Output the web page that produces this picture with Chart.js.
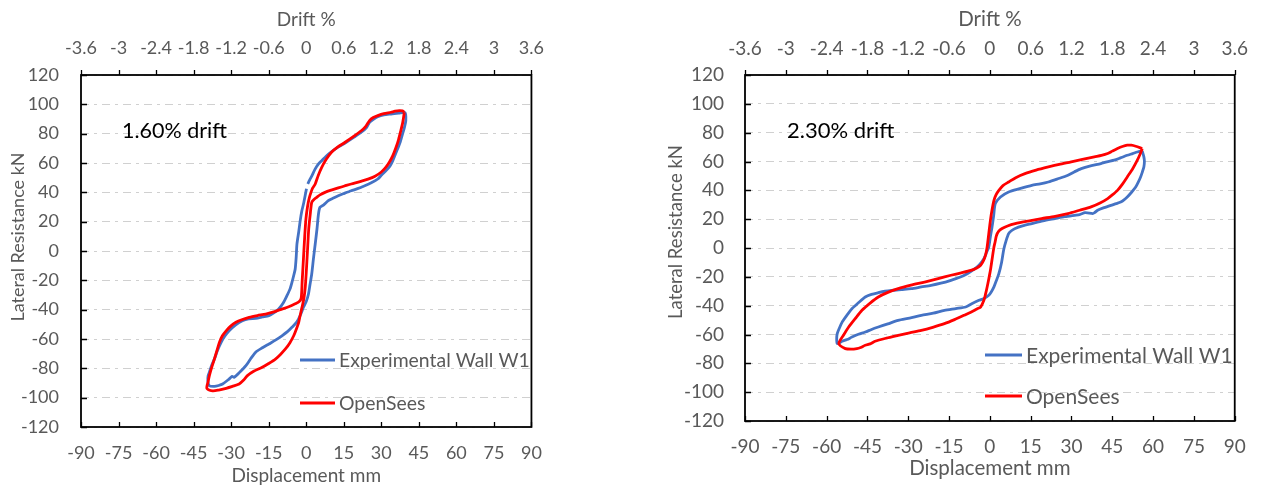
<!DOCTYPE html>
<html lang="en">
<head>
<meta charset="UTF-8">
<title>Wall W1 hysteresis vs OpenSees</title>
<script src="https://cdn.jsdelivr.net/npm/chart.js"></script>
<style>
  html, body { margin: 0; padding: 0; background: #fff; }
  .panel { position: absolute; top: 0; height: 486px; }
  #left { left: 0; width: 560px; }
  #right { left: 640px; width: 623px; }
</style>
</head>
<body>
<div class="panel" id="left"><canvas id="chartA"></canvas></div>
<div class="panel" id="right"><canvas id="chartB"></canvas></div>
<script>
// axis ticks
const dispTicks = [-90, -75, -60, -45, -30, -15, 0, 15, 30, 45, 60, 75, 90];
const driftTicks = ['-3.6', '-3', '-2.4', '-1.8', '-1.2', '-0.6', '0', '0.6', '1.2', '1.8', '2.4', '3', '3.6'];
const forceTicks = [-120, -100, -80, -60, -40, -20, 0, 20, 40, 60, 80, 100, 120];
const seriesNames = ['Experimental Wall W1', 'OpenSees'];
const notes = ['1.60% drift', '2.30% drift'];

// [displacement mm, lateral resistance kN]
const expA = [[0.6,45.7],[1.4,48.5],[2.2,51],[3.6,56],[5,59.5],[6.2,61.6],[8.8,66],[12,70],[15.4,73.5],[19,77.5],[22,81],[24,84],[25.3,87.8],[27,90],[28.6,91.6],[31,92.8],[33.9,93.4],[37,94],[39.5,94.3],
  [39.8,88.9],[39.2,84],[38.5,79.8],[37.6,74.5],[36.5,69.6],[34.6,61.6],[33.5,58],[31.9,54.8],[30.2,52],[28.6,49.1],[26,46.5],[23.4,44.5],[20.5,42.5],[18,41.1],[15.2,39.3],[12.8,37.7],[10.5,35.8],[8.8,34.3],[7,31.5],[5.5,29.8],[4.9,25.2],[4.3,15],[3.6,4.8],[2.9,-5],[2.2,-15.7],[1.5,-23],[0.9,-29.3],[0,-34.5],[-1.1,-38.4],[-2.4,-44],[-3.8,-48.5],[-5.7,-52],[-7.5,-55],[-9.7,-57.8],[-12.3,-60.8],[-14.9,-63.4],[-17.5,-66],[-20.2,-69],[-22.2,-73.5],[-24.1,-78.2],[-26.5,-82.5],[-28.8,-86.1],[-29.6,-85.5],[-30.8,-87.3],[-33.4,-90.7],[-35,-91.7],[-36.7,-92.3],[-38.7,-91.9],[-39.3,-88.5],[-39.2,-85],
  [-38.7,-82.7],[-37.8,-78],[-36.7,-73.7],[-35.5,-68],[-34,-62.3],[-32.5,-58],[-30.8,-54.4],[-28.3,-50.5],[-25.5,-47.5],[-23,-46.2],[-20.2,-45.9],[-17.5,-45],[-14.9,-44.1],[-12.8,-42],[-11,-39.6],[-9.2,-35.5],[-7.7,-30.5],[-6.5,-26],[-5.7,-21.4],[-4.9,-16],[-4.4,-12.3],[-4,-4],[-3.7,4.8],[-3,13],[-2.4,20.7],[-1.8,27],[-1.1,32],[-0.4,38],[0.1,42.5]];

const osA = [[39.2,94.6],[38.9,91],[38.5,87],[37.8,82],[36.9,76],[35.9,70.7],[34.6,65],[33.2,60.5],[31.7,56.8],[29.9,53.7],[27.5,51],[24.7,49],[21.5,47.3],[18,45.7],[15.3,44.3],[12.8,43],[10,41.5],[7.5,40],[5.5,38.3],[4.2,36.6],[3,35],[2.2,33.2],[1.6,25],[1,15],[0.5,0],[0,-15],[-0.4,-25],[-0.9,-32],[-1.5,-37],[-1.9,-40],
  [-2.5,-44.5],[-3,-48.6],[-4,-53.5],[-5,-57.8],[-6.5,-62.5],[-8.3,-66.8],[-10.3,-70.5],[-12.3,-73.7],[-15,-76.7],[-17.6,-79.3],[-21,-82],[-23.5,-85],[-25,-88],[-26.8,-90.7],[-29.5,-92.3],[-32,-93.6],[-35,-94.8],[-37.4,-95.3],[-39.7,-93.6],
  [-39.2,-89],[-38.7,-85],[-37.8,-79.5],[-36.7,-73.7],[-35.7,-68],[-34.7,-62.3],[-33.5,-57.8],[-32,-54.4],[-30.2,-51.2],[-28.1,-48.6],[-25.5,-46.7],[-22.8,-45.2],[-19.5,-44],[-16.2,-43],[-13,-41.5],[-9.7,-39.6],[-7,-38],[-4.4,-36],[-2.8,-34.5],[-2,-32],[-1.6,-20],[-1.1,-5],[-0.6,10],[-0.1,22],[0.5,30],[1.2,36],[2,40.5],[2.6,43],[3.6,45.7],[4.8,51.5],[6.2,57],[8,62.5],[10.1,67.3],[12.5,70.8],[15.4,74],[18.8,78],[22,82],[23.8,85],[25.3,88.9],[26.8,91],[28.6,92.3],[31,93.6],[33.9,94.6],[35.5,95.3],[37.2,95.7],[38.5,95.5],[39.2,94.6]];

const expB = [[56,67.3],[56.6,63.2],[56.8,60],[56.6,56.2],[56,52.5],[55.4,49.3],[54.5,45.5],[53.6,42.3],[52,38.5],[50.5,35.4],[49.3,33.4],[48.1,31.9],[46.5,30.8],[44.5,29.6],[42,28],[39.6,26.2],[38.5,24.5],[37.8,23.9],[35,24.5],[33,23.2],[31.1,22.7],[27.5,21.7],[23.9,20.4],[19.5,18.8],[15.4,16.9],[12,15.3],[9.3,13.5],[7.8,11.8],[6.9,10],[6,5.3],[5.1,-1],[4.3,-10],[3.3,-17.8],[2.4,-22.5],[1.5,-27],[0.5,-30.5],[-0.4,-32.8],[-2.2,-35],[-4,-36.3],[-6.5,-38.5],[-8.9,-40.9],[-12.5,-42],[-16.7,-43.2],[-20.8,-45.2],[-25.2,-46.7],[-29.5,-48.6],[-33.7,-50.2],[-37.5,-52.6],[-41,-54.8],[-43.5,-56.5],[-45.8,-58.3],[-48.3,-59.8],[-50.7,-61.8],[-52.5,-63.5],[-54.3,-64.7],[-56.1,-66.3],
  [-56.3,-63],[-56.1,-59.4],[-55.3,-55.5],[-54.3,-51.4],[-52.5,-46.5],[-50.7,-42.1],[-48.3,-38],[-45.8,-34],[-43.5,-32.2],[-41,-31],[-38.5,-30],[-36.1,-29.4],[-32.5,-28.8],[-28.9,-28.2],[-25.2,-27],[-21.6,-25.9],[-18,-24.4],[-14.3,-22.4],[-11.3,-20.5],[-8.3,-17.8],[-6,-15],[-4,-12],[-2.2,-7.4],[-1.2,-3],[-0.4,0.7],[0.2,8],[0.8,14.6],[1.4,22.5],[2,30.8],[3.9,35.4],[6.9,38.9],[11,41.2],[15.4,43.5],[18.5,44.5],[21.5,45.8],[25,48],[28.7,50.5],[31,52.8],[33.6,55.1],[37,57],[40.8,58.6],[43,59.8],[45.7,60.9],[48,62.5],[50.5,64.3],[52.5,65.5],[54.2,66.6],[56,67.3]];

const osB = [[56,69],[55.2,65],[54.2,60.9],[52.5,55],[50.5,49.3],[48.8,44.5],[46.9,40],[45,36.8],[43.3,34.3],[40.5,31.2],[37.2,28.5],[33,26.2],[28.7,23.9],[24,22],[19,20.4],[14,18.7],[9.3,16.9],[6.5,15.3],[4.5,13.5],[3.2,11.5],[2.4,8.5],[1.9,4],[1.5,0.7],[0.8,-8],[0.2,-15.5],[-0.4,-21.5],[-1,-27],[-1.6,-32],[-2.2,-36.3],[-3.4,-41],[-4.6,-42.1],[-7,-44.5],[-9.5,-46.7],[-13,-49.7],[-16.7,-52.5],[-21,-55],[-25.2,-57.1],[-29.5,-58.8],[-33.7,-60.6],[-38,-62.5],[-42.2,-64.7],[-44,-66.5],[-45.8,-67.5],[-47.5,-69],[-48.9,-69.8],[-51,-70.2],[-53.1,-69.8],[-55.5,-66.3],
  [-53.8,-60.5],[-51.9,-54.8],[-49.5,-49],[-47,-43.2],[-44,-38.2],[-41,-34],[-37.5,-30.8],[-33.7,-28.2],[-29,-25.8],[-24,-23.6],[-19,-21.2],[-14.3,-18.9],[-10.5,-17.2],[-7,-15.5],[-4.8,-13.8],[-3.4,-12],[-2.4,-9],[-1.6,-5],[-1,0.7],[-0.4,10],[0.2,19.2],[0.8,26.5],[1.5,33.1],[2.3,37],[3.3,40],[4.8,43.3],[6.9,45.8],[9.5,48.8],[12.9,51.6],[17,54],[21.5,56.2],[25.5,58],[29.9,59.7],[34,61.4],[38.4,63.2],[41,64.2],[43.3,65.5],[45,67.2],[46.9,69],[48.7,70.4],[50.5,71.3],[52,71.3],[53.6,70.6],[56,69]];

const BLUE = '#4472C4';
const RED = '#FF0000';
const GREY = '#595959';
const FONT = 'Lato, "Open Sans", sans-serif';

// frame, inward/outward tick marks, note, legend and rotated y title
const decor = {
  id: 'decor',
  afterDraw(chart, args, o) {
    const { ctx, chartArea: a, scales } = chart;
    ctx.save();
    ctx.strokeStyle = '#000';
    ctx.lineWidth = 1.3;
    ctx.beginPath();
    scales.x.ticks.forEach(t => {
      const px = Math.round(scales.x.getPixelForValue(t.value)) + 0.5;
      ctx.moveTo(px, a.bottom); ctx.lineTo(px, a.bottom - 5);
    });
    scales.x2.ticks.forEach(t => {
      const px = Math.round(scales.x2.getPixelForValue(t.value)) + 0.5;
      ctx.moveTo(px, a.top); ctx.lineTo(px, a.top - 5);
    });
    scales.y.ticks.forEach(t => {
      const py = Math.round(scales.y.getPixelForValue(t.value)) + 0.5;
      ctx.moveTo(a.left, py); ctx.lineTo(a.left + 6, py);
    });
    ctx.stroke();
    ctx.lineWidth = 1.8;
    ctx.strokeRect(a.left, a.top, a.right - a.left, a.bottom - a.top);

    ctx.fillStyle = '#000';
    ctx.font = o.noteSize + 'px ' + FONT;
    ctx.textAlign = 'left';
    ctx.textBaseline = 'alphabetic';
    ctx.fillText(o.note, o.noteX, o.noteY);

    ctx.font = o.legendSize + 'px ' + FONT;
    ctx.textBaseline = 'middle';
    chart.data.datasets.forEach((ds, i) => {
      const y = o.legendY[i];
      ctx.strokeStyle = ds.borderColor;
      ctx.lineWidth = 2.8;
      ctx.beginPath();
      ctx.moveTo(o.legendX, y); ctx.lineTo(o.legendX + o.legendLen, y);
      ctx.stroke();
      ctx.fillStyle = GREY;
      ctx.fillText(ds.label, o.legendX + o.legendLen + 4, y + 1);
    });

    ctx.translate(o.yTitleX, o.yTitleY);
    ctx.rotate(-Math.PI / 2);
    ctx.font = o.yTitleSize + 'px ' + FONT;
    ctx.textAlign = 'center';
    ctx.fillStyle = GREY;
    ctx.fillText('Lateral Resistance kN', 0, 0);
    ctx.restore();
  }
};

function makeChart(id, exp, os, p) {
  const tickFont = { family: FONT, size: p.tickSize };
  const titleFont = { family: FONT, size: p.titleSize };
  const line = (label, data, color, order) => ({
    label, data: data.map(d => ({ x: d[0], y: d[1] })),
    borderColor: color, backgroundColor: color, borderWidth: 2.8,
    showLine: true, pointRadius: 0, tension: 0.25, fill: false, order
  });
  return new Chart(document.getElementById(id), {
    type: 'scatter',
    data: { datasets: [line(seriesNames[0], exp, BLUE, 2), line(seriesNames[1], os, RED, 1)] },
    options: {
      responsive: true,
      maintainAspectRatio: false,
      animation: false,
      layout: { padding: { left: 0, right: p.padRight, top: 0, bottom: 0 } },
      plugins: { legend: { display: false }, tooltip: { enabled: false }, decor: p },
      scales: {
        x: {
          type: 'linear', position: 'bottom', min: -90, max: 90,
          afterBuildTicks: s => { s.ticks = dispTicks.map(v => ({ value: v })); },
          afterFit: s => { s.height = p.bottomH; },
          grid: { display: false, drawTicks: false },
          border: { display: false },
          ticks: { color: GREY, font: tickFont, padding: p.bottomPad, maxRotation: 0, autoSkip: false },
          title: { display: true, text: 'Displacement mm', color: GREY, font: titleFont, padding: { top: 0, bottom: p.bottomTitlePad } }
        },
        x2: {
          type: 'linear', position: 'top', min: -3.6, max: 3.6,
          afterBuildTicks: s => { s.ticks = driftTicks.map(v => ({ value: parseFloat(v) })); },
          afterFit: s => { s.height = p.topH; },
          grid: { display: false, drawTicks: false },
          border: { display: false },
          ticks: { color: GREY, font: tickFont, padding: p.topPad, maxRotation: 0, autoSkip: false,
            callback: (v, i) => driftTicks[i] },
          title: { display: true, text: 'Drift %', color: GREY, font: titleFont, padding: { top: p.topTitlePad, bottom: 0 } }
        },
        y: {
          type: 'linear', min: -120, max: 120,
          afterBuildTicks: s => { s.ticks = forceTicks.map(v => ({ value: v })); },
          afterFit: s => { s.width = p.leftW; },
          grid: { color: '#D0D0D0', lineWidth: 1, drawTicks: false },
          border: { display: false, dash: [8, 5, 3, 5] },
          ticks: { color: GREY, font: tickFont, padding: p.leftPad }
        }
      }
    },
    plugins: [decor]
  });
}

makeChart('chartA', expA, osA, {
  tickSize: 18, titleSize: 19, yTitleSize: 18, padRight: 25, leftW: 81, bottomH: 59, topH: 75,
  bottomPad: 15, topPad: 16, leftPad: 22, bottomTitlePad: -1, topTitlePad: 8,
  note: notes[0], noteSize: 21.5, noteX: 122, noteY: 138,
  legendSize: 19.4, legendX: 300, legendLen: 35, legendY: [360, 403],
  yTitleX: 18, yTitleY: 237
});
makeChart('chartB', expB, osB, {
  tickSize: 19, titleSize: 20.5, yTitleSize: 18.5, padRight: 23, leftW: 105, bottomH: 65, topH: 75,
  bottomPad: 14, topPad: 15, leftPad: 21, bottomTitlePad: 5, topTitlePad: 7,
  note: notes[1], noteSize: 22, noteX: 147, noteY: 138,
  legendSize: 21, legendX: 345, legendLen: 37, legendY: [355, 396],
  yTitleX: 36, yTitleY: 232
});
</script>
</body>
</html>
